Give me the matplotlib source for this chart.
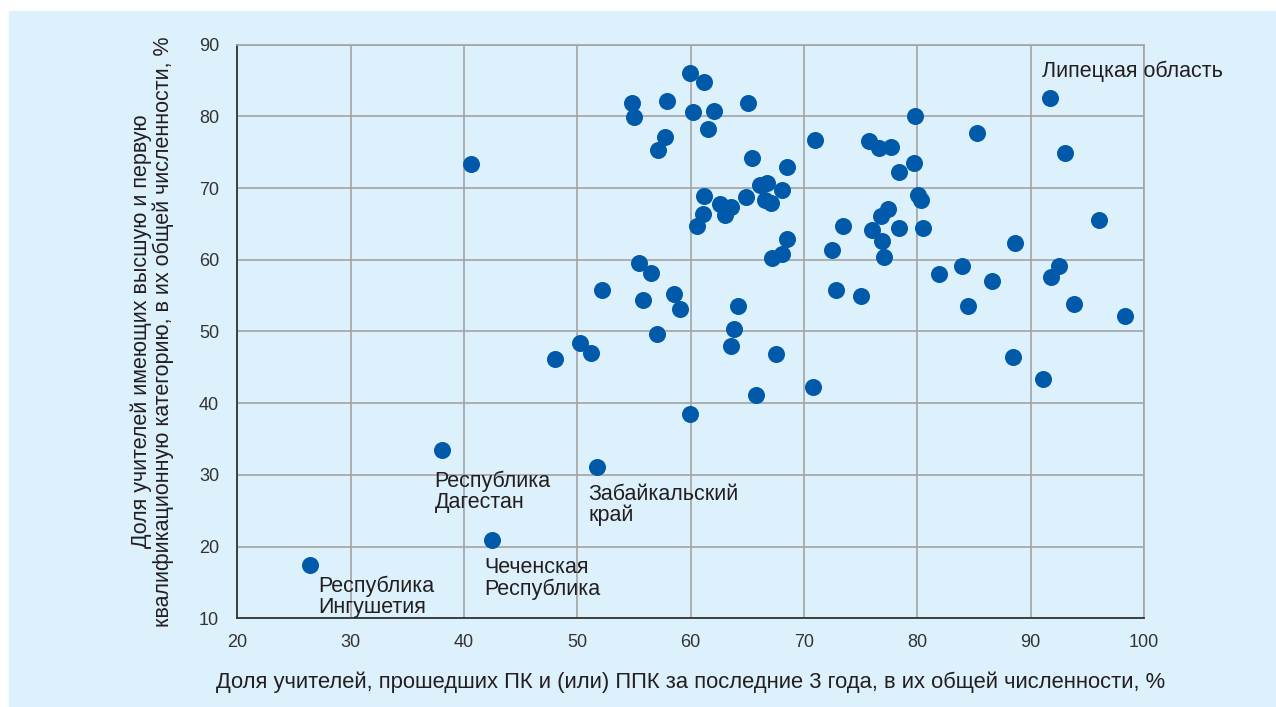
import matplotlib.pyplot as plt
from matplotlib.patches import Rectangle

# доля учителей, прошедших ПК/ППК (x) и имеющих категорию (y), %
x = [40.6, 59.9, 61.2, 54.8, 55.0, 57.9, 60.2, 62.1, 61.5, 65.1, 57.7, 57.1,
     71.0, 65.4, 68.5, 66.1, 66.7, 68.1, 66.6, 67.1, 64.9, 61.2, 62.6, 63.6,
     63.0, 61.1, 60.6, 73.4, 68.5, 68.1, 67.2, 72.5, 55.4, 56.5, 52.2, 55.8,
     58.5, 59.1, 64.2, 72.8, 75.0, 63.8, 57.0,
     91.7, 79.8, 85.3, 75.7, 76.6, 77.7, 93.0, 79.7, 78.4, 80.1, 80.3, 77.4,
     76.8, 96.0, 76.0, 78.4, 80.5, 76.9, 77.1, 88.6, 92.5, 91.8, 81.9, 83.9,
     86.6, 84.5, 93.8, 98.3, 88.4, 91.1,
     48.0, 50.2, 51.2, 63.6, 67.5, 65.8, 70.8, 59.9, 51.7,
     38.1, 42.5, 26.4]
y = [73.3, 86.1, 84.8, 81.9, 79.9, 82.1, 80.6, 80.7, 78.2, 81.9, 77.1, 75.3,
     76.7, 74.2, 72.9, 70.5, 70.7, 69.8, 68.4, 67.9, 68.7, 68.9, 67.8, 67.3,
     66.3, 66.4, 64.7, 64.7, 62.9, 60.8, 60.3, 61.3, 59.5, 58.1, 55.8, 54.4,
     55.2, 53.2, 53.5, 55.8, 54.9, 50.4, 49.6,
     82.6, 80.0, 77.7, 76.5, 75.6, 75.8, 74.9, 73.5, 72.2, 69.1, 68.3, 67.1,
     66.1, 65.5, 64.2, 64.4, 64.5, 62.6, 60.4, 62.3, 59.1, 57.6, 58.0, 59.2,
     57.1, 53.6, 53.8, 52.2, 46.4, 43.4,
     46.2, 48.4, 47.0, 48.0, 46.9, 41.1, 42.2, 38.5, 31.1,
     33.5, 20.9, 17.5]

labels = ['Липецкая область', 'Республика\nДагестан', 'Республика\nИнгушетия',
          'Чеченская\nРеспублика', 'Забайкальский\nкрай']
label_x = [91.0, 37.4, 27.1, 41.8, 50.95]
label_y = [87.8, 30.6, 16.0, 18.5, 28.8]

xticks = [20, 30, 40, 50, 60, 70, 80, 90, 100]
yticks = [10, 20, 30, 40, 50, 60, 70, 80, 90]

plt.rcParams['font.family'] = ['Liberation Sans', 'DejaVu Sans']
bg = '#dcf1fc'
txt = '#231f20'

fig = plt.figure(figsize=(12.76, 7.07), dpi=100)
fig.patch.set_facecolor('white')
fig.patches.append(Rectangle((9 / 1276, 0), 1 - 9 / 1276, 1 - 11 / 707,
                             transform=fig.transFigure, color=bg, zorder=-10))

ax = fig.add_axes([237.3 / 1276, 1 - 618.3 / 707, (1144 - 237.3) / 1276, (618.3 - 44.7) / 707])
ax.set_facecolor(bg)
ax.scatter(x, y, s=150, color='#0059a9', zorder=3, linewidths=0)

for t, lx, ly in zip(labels, label_x, label_y):
    ax.text(lx, ly, t, fontsize=15.5, color=txt, va='top', ha='left',
            linespacing=1.0, zorder=4, clip_on=False)

ax.set_xlim(20, 100)
ax.set_ylim(10, 90)
ax.set_xticks(xticks)
ax.set_yticks(yticks)
ax.grid(True, color='#a4a4a4', linewidth=1.2, zorder=0)
ax.tick_params(length=0, labelsize=13, colors='#333333', pad=11)
ax.tick_params(axis='y', pad=13)
for side in ['top', 'right']:
    ax.spines[side].set_color('#a4a4a4')
    ax.spines[side].set_linewidth(1.2)
for side in ['left', 'bottom']:
    ax.spines[side].set_color('#333333')
    ax.spines[side].set_linewidth(1.3)

ax.set_xlabel('Доля учителей, прошедших ПК и (или) ППК за последние 3 года, в их общей численности, %',
              fontsize=15.8, color=txt, labelpad=15)
ax.set_ylabel('Доля учителей имеющих высшую и первую\nквалификационную категорию, в их общей численности, %',
              fontsize=15.5, color=txt, labelpad=18, linespacing=1.0)

fig.savefig('out.png', dpi=100, facecolor=fig.get_facecolor())
